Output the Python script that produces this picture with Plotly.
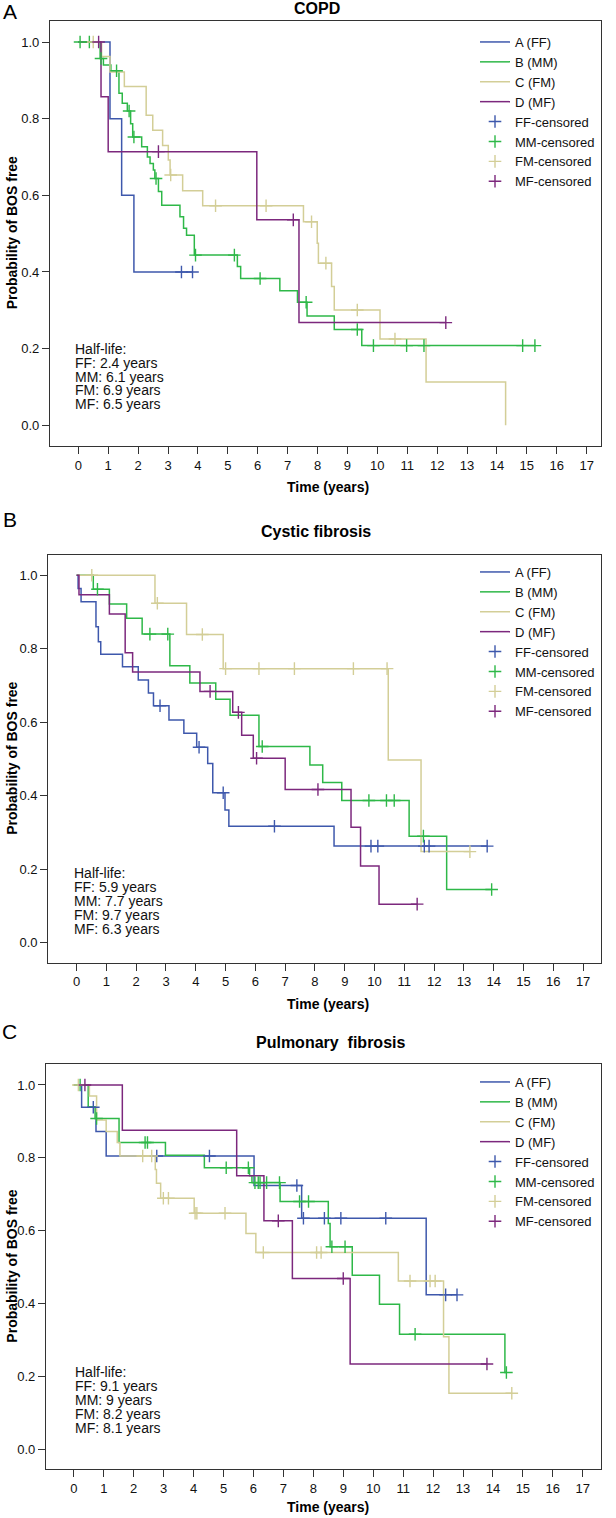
import plotly.graph_objects as go

W, H = 616, 1518
FONT = "Liberation Sans, Arial, Helvetica, sans-serif"
COLORS = {"FF": "#3E58AC", "MM": "#2EB848", "FM": "#D3CE97", "MF": "#7C287D"}
GROUPS = ["FF", "MM", "FM", "MF"]
LINE_NAMES = ["A (FF)", "B (MM)", "C (FM)", "D (MF)"]
CENS_NAMES = ["FF-censored", "MM-censored", "FM-censored", "MF-censored"]
X_TICKS = list(range(0, 18))
Y_TICKS = [0.0, 0.2, 0.4, 0.6, 0.8, 1.0]
Y_TICK_TEXT = ["0.0", "0.2", "0.4", "0.6", "0.8", "1.0"]
PANEL_LETTERS = ["A", "B", "C"]
PANEL_TITLES = ["COPD", "Cystic fibrosis", "Pulmonary\u00a0 fibrosis"]
X_TITLE = "Time (years)"
Y_TITLE = "Probability of BOS free"

# ---------------- Panel A: COPD ----------------
copd_ff_t = [0, 1.06, 1.45, 1.86]
copd_ff_s = [1.0, 0.8, 0.6, 0.4]
copd_ff_end = 3.82
copd_ff_cens = [3.45, 3.82]

copd_mm_t = [0, 0.73, 0.84, 1.09, 1.36, 1.47, 1.64, 1.75, 1.82, 2.12, 2.31, 2.40, 2.51,
             2.56, 2.68, 2.79, 3.40, 3.52, 3.62, 3.88, 5.32, 5.43, 6.74, 7.33, 7.65,
             8.56, 9.48]
copd_mm_s = [1.0, 0.957, 0.94, 0.925, 0.866, 0.84, 0.82, 0.787, 0.752, 0.727, 0.70, 0.683,
             0.666, 0.644, 0.61, 0.574, 0.544, 0.514, 0.496, 0.444, 0.414, 0.383, 0.351,
             0.321, 0.285, 0.25, 0.208]
copd_mm_end = 15.3
copd_mm_cens = [0.06, 0.37, 0.76, 1.28, 1.70, 1.86, 2.60, 3.92, 5.22, 6.08, 7.62, 9.33,
                9.87, 10.98, 11.56, 14.86, 15.27]

copd_fm_t = [0, 0.78, 1.06, 1.54, 2.27, 2.49, 2.82, 3.01, 3.07, 3.49, 4.16, 7.53, 7.99,
             8.03, 8.47, 8.56, 10.09, 11.63, 14.29]
copd_fm_s = [1.0, 0.962, 0.922, 0.884, 0.809, 0.77, 0.73, 0.692, 0.653, 0.612, 0.573, 0.531,
             0.475, 0.423, 0.362, 0.301, 0.225, 0.113, 0.0]
copd_fm_end = 14.29
copd_fm_cens = [0.50, 3.09, 4.59, 6.28, 7.80, 8.28, 9.33, 10.59]

copd_mf_t = [0, 0.76, 1.0, 5.97, 7.38]
copd_mf_s = [1.0, 0.857, 0.714, 0.536, 0.268]
copd_mf_end = 12.29
copd_mf_cens = [0.68, 2.68, 7.19, 12.29]

copd_halflife = ["Half-life:", "FF: 2.4 years", "MM: 6.1 years", "FM: 6.9 years", "MF: 6.5 years"]

# ---------------- Panel B: Cystic fibrosis ----------------
cf_ff_t = [0, 0.05, 0.15, 0.65, 0.73, 0.81, 1.54, 2.07, 2.41, 2.58, 3.10, 3.60, 4.03,
           4.40, 4.57, 4.98, 5.11, 8.64]
cf_ff_s = [1.0, 0.964, 0.928, 0.86, 0.819, 0.785, 0.751, 0.715, 0.68, 0.645, 0.606, 0.57,
           0.532, 0.488, 0.408, 0.361, 0.317, 0.263]
cf_ff_end = 13.78
cf_ff_cens = [2.80, 4.11, 4.92, 6.64, 9.88, 10.11, 11.67, 11.83, 13.78]

cf_mm_t = [0, 0.56, 1.10, 1.68, 2.20, 3.13, 3.80, 4.67, 5.15, 6.12, 7.83, 8.26, 8.90,
           11.16, 12.42]
cf_mm_s = [1.0, 0.962, 0.922, 0.883, 0.84, 0.754, 0.707, 0.663, 0.619, 0.534, 0.484, 0.436,
           0.387, 0.29, 0.145]
cf_mm_end = 13.93
cf_mm_cens = [0.70, 2.46, 3.06, 6.23, 9.81, 10.40, 10.66, 11.64, 13.93]

cf_fm_t = [0, 2.63, 3.69, 4.92, 10.46, 11.56]
cf_fm_s = [1.0, 0.924, 0.839, 0.746, 0.497, 0.248]
cf_fm_end = 13.2
cf_fm_cens = [0.51, 2.71, 4.22, 5.00, 6.12, 7.31, 9.29, 10.42, 13.2]

cf_mf_t = [0, 0.08, 1.10, 1.63, 1.88, 4.14, 5.24, 5.54, 5.93, 7.00, 9.21, 9.53, 10.15]
cf_mf_s = [1.0, 0.947, 0.895, 0.789, 0.737, 0.684, 0.627, 0.565, 0.502, 0.417, 0.314,
           0.209, 0.105]
cf_mf_end = 11.43
cf_mf_cens = [4.48, 5.43, 6.04, 8.10, 11.43]

cf_halflife = ["Half-life:", "FF: 5.9 years", "MM: 7.7 years", "FM: 9.7 years", "MF: 6.3 years"]

# ---------------- Panel C: Pulmonary fibrosis ----------------
pf_ff_t = [0, 0.26, 0.74, 1.08, 6.02, 7.61, 11.77]
pf_ff_s = [1.0, 0.939, 0.872, 0.805, 0.724, 0.634, 0.424]
pf_ff_end = 12.8
pf_ff_cens = [0.65, 2.77, 4.53, 7.45, 7.67, 8.37, 8.92, 10.42, 12.42, 12.8]

pf_mm_t = [0, 0.48, 0.71, 1.51, 3.06, 4.36, 5.87, 5.95, 6.89, 8.50, 8.56, 9.30, 10.21,
           10.88, 14.40]
pf_mm_s = [1.0, 0.94, 0.908, 0.842, 0.807, 0.773, 0.751, 0.732, 0.68, 0.62, 0.556, 0.478,
           0.398, 0.316, 0.211]
pf_mm_end = 14.45
pf_mm_cens = [0.21, 0.76, 2.38, 2.46, 5.09, 5.83, 6.05, 6.16, 6.22, 6.44, 6.87, 7.54,
              7.84, 8.62, 9.06, 11.40, 14.45]

pf_fm_t = [0, 0.52, 0.76, 1.08, 1.45, 1.54, 2.72, 2.76, 2.90, 4.02, 5.75, 6.08, 10.84,
           12.35, 12.53]
pf_fm_s = [1.0, 0.97, 0.904, 0.872, 0.842, 0.805, 0.768, 0.73, 0.689, 0.648, 0.592, 0.54,
           0.462, 0.309, 0.154]
pf_fm_end = 14.63
pf_fm_cens = [0.15, 2.30, 2.60, 2.99, 3.16, 4.05, 4.11, 5.05, 6.33, 8.11, 8.26, 11.23,
              11.90, 12.07, 14.63]

pf_mf_t = [0, 1.62, 5.44, 6.35, 7.30, 9.23]
pf_mf_s = [1.0, 0.876, 0.751, 0.627, 0.469, 0.234]
pf_mf_end = 13.8
pf_mf_cens = [0.37, 6.83, 9.00, 13.8]

pf_halflife = ["Half-life:", "FF: 9.1 years", "MM: 9 years", "FM: 8.2 years", "MF: 8.1 years"]

# ---------------- assembly ----------------
panels_data = [
    {"FF": (copd_ff_t, copd_ff_s, copd_ff_end, copd_ff_cens),
     "MM": (copd_mm_t, copd_mm_s, copd_mm_end, copd_mm_cens),
     "FM": (copd_fm_t, copd_fm_s, copd_fm_end, copd_fm_cens),
     "MF": (copd_mf_t, copd_mf_s, copd_mf_end, copd_mf_cens)},
    {"FF": (cf_ff_t, cf_ff_s, cf_ff_end, cf_ff_cens),
     "MM": (cf_mm_t, cf_mm_s, cf_mm_end, cf_mm_cens),
     "FM": (cf_fm_t, cf_fm_s, cf_fm_end, cf_fm_cens),
     "MF": (cf_mf_t, cf_mf_s, cf_mf_end, cf_mf_cens)},
    {"FF": (pf_ff_t, pf_ff_s, pf_ff_end, pf_ff_cens),
     "MM": (pf_mm_t, pf_mm_s, pf_mm_end, pf_mm_cens),
     "FM": (pf_fm_t, pf_fm_s, pf_fm_end, pf_fm_cens),
     "MF": (pf_mf_t, pf_mf_s, pf_mf_end, pf_mf_cens)},
]
halflives = [copd_halflife, cf_halflife, pf_halflife]

# layout geometry (pixels): left, right, top, bottom of each plot frame
frames = [(50, 601, 20.7, 446), (48.3, 601, 555, 962.7), (46, 601, 1064, 1469.3)]
x_ranges = [[-0.946, 17.48], [-0.95, 17.60], [-0.93, 17.61]]
y_ranges = [[-0.054, 1.0556], [-0.0544, 1.0553], [-0.0549, 1.0576]]
title_pos = [(316.5, 8), (316, 531), (330, 1042)]
letter_pos = [(10, 11), (10, 520), (10, 1031)]
halflife_pos = [(72.7, 348.7), (71.7, 873.3), (72.7, 1372.3)]
xtitle_y = [487, 1004, 1507]
legend_pos = [(475, 27), (475, 557), (475, 1067)]
HL_STEP = 13.9


def surv_at(times, surv, t):
    val = surv[0]
    for ti, si in zip(times, surv):
        if ti <= t:
            val = si
    return val


def px(xp):
    return xp / W


def py(yp):
    return 1 - yp / H


fig = go.Figure()
annotations = []
layout = {}

for p in range(3):
    suffix = "" if p == 0 else str(p + 1)
    xa, ya = "x" + suffix, "y" + suffix
    leg = "legend" + suffix
    data = panels_data[p]
    for g, lname in zip(GROUPS, LINE_NAMES):
        t, s, end, _ = data[g]
        fig.add_trace(go.Scatter(
            x=list(t) + [end], y=list(s) + [s[-1]], mode="lines", name=lname,
            line=dict(color=COLORS[g], width=1.5, shape="hv"),
            xaxis=xa, yaxis=ya, legend=leg, hoverinfo="skip"))
    for g, cname in zip(GROUPS, CENS_NAMES):
        t, s, end, cens = data[g]
        fig.add_trace(go.Scatter(
            x=cens, y=[surv_at(t, s, c) for c in cens], mode="markers", name=cname,
            marker=dict(symbol="cross-thin", size=9, color=COLORS[g],
                        line=dict(width=1.4, color=COLORS[g])),
            xaxis=xa, yaxis=ya, legend=leg, hoverinfo="skip"))

    l, r, tp, bt = frames[p]
    axis_common = dict(showline=True, mirror=True, linecolor="#333333", linewidth=1.3,
                       ticks="outside", ticklen=7, tickwidth=1.3, tickcolor="#333333",
                       showgrid=False, zeroline=False,
                       tickfont=dict(family=FONT, size=13, color="#111111"))
    layout["xaxis" + suffix] = dict(axis_common, domain=[px(l), px(r)], range=x_ranges[p],
                                    tickmode="array", tickvals=X_TICKS,
                                    anchor=ya)
    layout["yaxis" + suffix] = dict(axis_common, domain=[py(bt), py(tp)], range=y_ranges[p],
                                    tickmode="array", tickvals=Y_TICKS, ticktext=Y_TICK_TEXT,
                                    anchor=xa)
    lx, ly = legend_pos[p]
    layout[leg] = dict(x=px(lx), y=py(ly), xanchor="left", yanchor="top",
                       bgcolor="rgba(0,0,0,0)", traceorder="normal",
                       font=dict(family=FONT, size=13, color="#111111"),
                       itemwidth=30, tracegroupgap=0)

    # title
    tx, ty = title_pos[p]
    annotations.append(dict(text=PANEL_TITLES[p], x=px(tx), y=py(ty), xref="paper", yref="paper",
                            xanchor="center", yanchor="middle", showarrow=False,
                            font=dict(family=FONT, size=16, color="#000000", weight="bold")))
    # panel letter
    lxp, lyp = letter_pos[p]
    annotations.append(dict(text=PANEL_LETTERS[p], x=px(lxp), y=py(lyp), xref="paper", yref="paper",
                            xanchor="center", yanchor="middle", showarrow=False,
                            font=dict(family=FONT, size=21, color="#000000")))
    # axis titles
    annotations.append(dict(text=X_TITLE, x=px(328), y=py(xtitle_y[p]), xref="paper", yref="paper",
                            xanchor="center", yanchor="middle", showarrow=False,
                            font=dict(family=FONT, size=14, color="#000000", weight="bold")))
    annotations.append(dict(text=Y_TITLE, x=px(12), y=py((tp + bt) / 2), xref="paper", yref="paper",
                            xanchor="center", yanchor="middle", showarrow=False, textangle=-90,
                            font=dict(family=FONT, size=14, color="#000000", weight="bold")))
    # half-life text
    hx, hy = halflife_pos[p]
    for i, line in enumerate(halflives[p]):
        annotations.append(dict(text=line, x=px(hx), y=py(hy + i * HL_STEP), xref="paper",
                                yref="paper", xanchor="left", yanchor="middle", showarrow=False,
                                font=dict(family=FONT, size=14, color="#111111")))

fig.update_layout(
    width=W, height=H, margin=dict(l=0, r=0, t=0, b=0),
    paper_bgcolor="white", plot_bgcolor="white",
    font=dict(family=FONT, color="#111111"),
    annotations=annotations, **layout)

fig.write_html("out.html", config={"displayModeBar": False},
               post_script="document.body.style.margin='0';")
